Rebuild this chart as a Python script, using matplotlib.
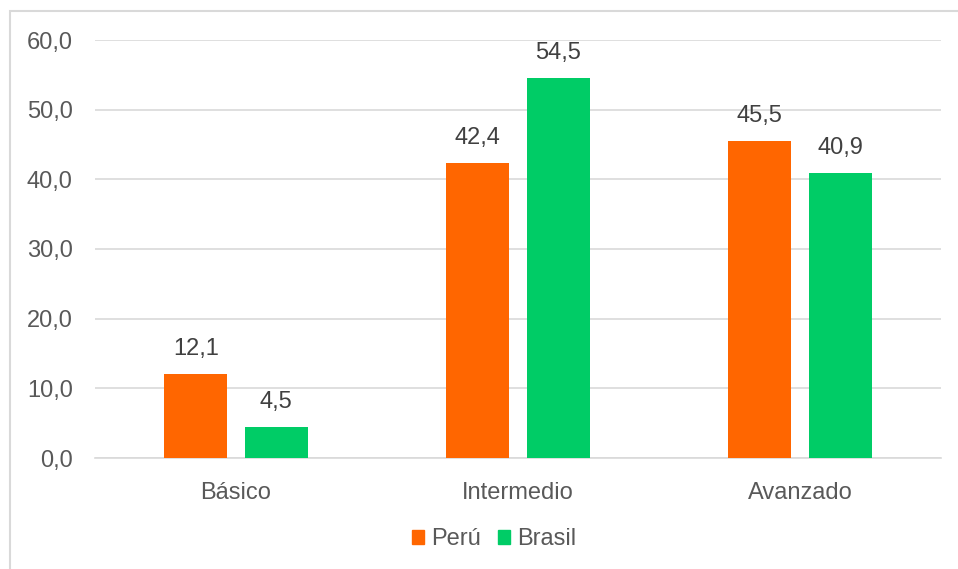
#柱状图：Perú vs Brasil
import matplotlib
matplotlib.use("Agg")
from matplotlib import pyplot as plt
from matplotlib.patches import Rectangle, Patch
import numpy as np

#数据
categories = ["Básico", "Intermedio", "Avanzado"]
peru = [12.1, 42.4, 45.5]
brasil = [4.5, 54.5, 40.9]
series_names = ["Perú", "Brasil"]
yticks = [0, 10, 20, 30, 40, 50, 60]

c_peru = "#FF6600"
c_brasil = "#00CC66"
c_text = "#595959"
c_grid = "#D9D9D9"

plt.rcParams['font.family'] = ['Liberation Sans', 'DejaVu Sans']
plt.rcParams['font.size'] = 17

fig = plt.figure(figsize=(9.58, 5.69), dpi=100)
W, H = 958, 569
ax = fig.add_axes([95 / W, 1 - 458 / H, 846 / W, 418 / H])

x = np.arange(len(categories))
w = 0.223
off = 0.1427
b1 = ax.bar(x - off, peru, w, color=c_peru, zorder=3)
b2 = ax.bar(x + off, brasil, w, color=c_brasil, zorder=3)

#数据标签（逗号做小数点）
for bars, vals in ((b1, peru), (b2, brasil)):
    for r, v in zip(bars, vals):
        ax.annotate(f"{v:.1f}".replace(".", ","), (r.get_x() + r.get_width() / 2, v),
                    xytext=(0, 18), textcoords="offset points",
                    ha="center", va="center", color="#404040", fontsize=17)

ax.set_xlim(-0.5, 2.5)
ax.set_ylim(0, 60)
ax.set_yticks(yticks)
ax.set_yticklabels([f"{t:.1f}".replace(".", ",") for t in yticks])
ax.set_xticks(x)
ax.set_xticklabels(categories)
ax.tick_params(axis="both", length=0, colors=c_text, labelsize=17)
ax.tick_params(axis="y", pad=16)
ax.tick_params(axis="x", pad=17)
ax.yaxis.grid(True, color=c_grid, linewidth=1.2, zorder=0)
for s in ("top", "right", "left"):
    ax.spines[s].set_visible(False)
ax.spines["bottom"].set_color(c_grid)
ax.spines["bottom"].set_linewidth(1.2)

#图例
handles = [Patch(color=c_peru), Patch(color=c_brasil)]
fig.legend(handles, series_names, loc="center", bbox_to_anchor=(494 / W, 1 - 539 / H),
           ncol=2, frameon=False, handlelength=0.53, handleheight=0.53,
           handletextpad=0.3, columnspacing=0.7, labelcolor=c_text, fontsize=17)

#外框
fig.patches.append(Rectangle((9.5 / W, -0.1), 1.2, 1 - 10.5 / H + 0.1,
                             transform=fig.transFigure, fill=False,
                             edgecolor=c_grid, linewidth=1.5))

plt.savefig("out.png", dpi=100)
